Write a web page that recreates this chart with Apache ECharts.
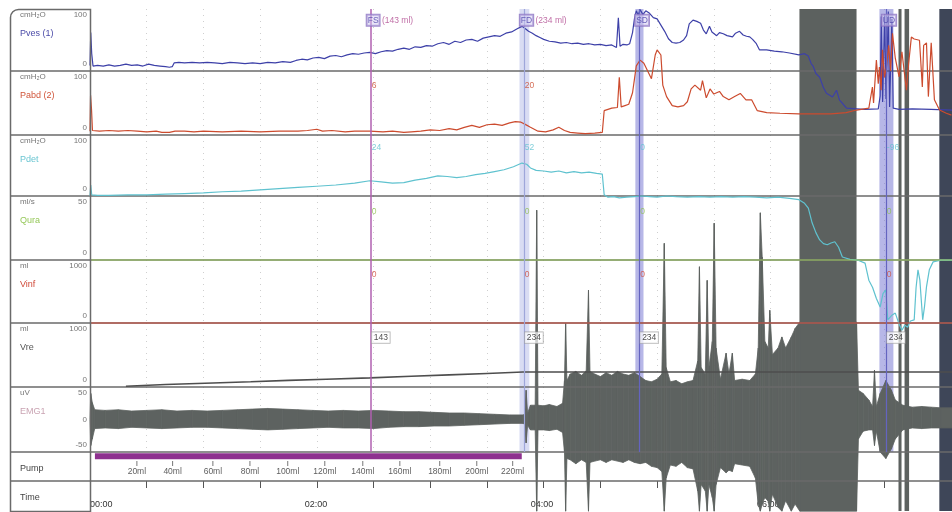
<!DOCTYPE html>
<html><head><meta charset="utf-8">
<script src="https://cdn.jsdelivr.net/npm/echarts@6/dist/echarts.min.js"></script>
<style>html,body{margin:0;padding:0;background:#fff}#c{width:952px;height:512px}</style>
</head><body><div id="c"></div>
<script>
// ---------------- DATA (time in seconds) ----------------
const channelNames = ['Pves (1)','Pabd (2)','Pdet','Qura','Vinf','Vre','EMG1','Pump','Time'];
const channelUnits = ['cmH\u2082O','cmH\u2082O','cmH\u2082O','ml/s','ml','ml','uV','',''];
const channelMaxLabels = ['100','100','100','50','1000','1000','50','',''];
const channelMinLabels = ['0','0','0','0','0','0','-50','',''];
const channelMax = [100,100,100,50,1000,1000,50,1,1];
const channelMin = [0,0,0,0,0,0,-50,0,0];
const timeTickLabels = ['00:00','02:00','04:00','06:00'];
const pumpVolLabels = ['20ml','40ml','60ml','80ml','100ml','120ml','140ml','160ml','180ml','200ml','220ml'];
const pumpTimes = [24.8,43.7,65,84.6,104.6,124.2,144.3,163.9,185,204.6,223.6];
const pumpRun = [2.6,228.4];

const pves = [[0,9],[0.4,62],[0.9,28],[1.6,8],[4,9],[7,8],[10,10],[13,8],[16,9],[19,11],[22,9],[25,10],[28,8],[31,11],[34,9],[37,8],[40,7],[42,6],[43.5,7],[44.5,13],[47,14],[50,13],[54,14],[58,13],[62,14],[66,13],[70,12],[74,14],[78,13],[82,12],[86,13],[90,12],[94,14],[98,13],[102,15],[106,14],[109,17],[112,19],[115,18],[118,21],[121,22],[124,20],[127,24],[130,25],[133,23],[136,26],[139,28],[142,27],[145,29],[148,30],[151,28],[154,31],[157,33],[160,32],[163,35],[166,37],[169,35],[172,39],[175,38],[178,41],[181,40],[184,44],[187,46],[190,43],[193,48],[196,46],[199,50],[202,51],[205,48],[208,53],[211,55],[214,57],[217,56],[220,61],[223,63],[226,68],[228.5,72],[230,69],[232,64],[234,61],[236,57],[238,54],[240,51],[243,48],[246,47],[249,45],[252,46],[255,44],[258,45],[261,43],[264,44],[267,42],[270,43],[273,41],[276,42],[278.5,38],[279.5,86],[280.4,40],[282,43],[284,42],[285.5,44],[287,62],[288,84],[289,97],[290,90],[291,99],[292.5,91],[294,97],[296,93],[298,86],[300,84],[302,74],[304,64],[306,52],[308,46],[310,45],[312,46],[314,50],[315.6,57],[317,76],[319,82],[321,80],[323,77],[324.5,66],[326,60],[327.7,72],[329,63],[331.5,57],[333,62],[335,60],[337,57],[339.9,55],[341.5,61],[343.6,64],[345.5,58],[347.3,56],[349,55],[350.5,51],[352.5,44],[354.2,34],[357.9,34],[362,32],[366,31],[370,29],[375,26],[378,28],[380,24],[381.5,12],[382.5,8],[384,-4],[386,-10],[388,-27],[389.6,-36],[392.8,-42],[394.9,-31],[396.5,-47],[398,-52],[400.2,-60],[405.5,-61],[410,-62],[417,-61],[418,-40],[418.6,88],[419.3,-50],[420.4,92],[421.1,-45],[422.3,96],[423,-58],[424.2,84],[424.9,-60],[428,-62],[435,-61],[445,-62],[456,-63]];

const pabd = [[0,6],[0.3,62],[0.8,40],[1.3,7],[5,6],[10,7],[15,6],[20,7],[25,6],[30,5],[35,6],[38,4],[42,4],[45,6],[50,6],[55,5],[60,6],[70,5],[80,6],[90,5],[100,6],[110,6],[115,7],[120,9],[123,6],[128,7],[135,5],[140,6],[148,6],[155,5],[160,6],[166,4],[170,5],[175,6],[180,8],[185,7],[190,10],[194,8],[198,12],[202,15],[206,12],[210,16],[214,17],[218,15],[222,19],[225,21],[228,20],[230,17],[233,12],[237,6],[241,5],[245,8],[248,12],[251,7],[254,4],[258,3],[262,2],[267,3],[271,4],[272,38],[274,40],[276,42],[279,43],[280,90],[281,44],[283,46],[285,48],[287,66],[289,108],[291,117],[293,112],[295,100],[297,88],[299,125],[300,133],[302,125],[303,78],[305,60],[308,46],[311,44],[314,46],[316,52],[318,72],[320,78],[323,70],[324,85],[326,58],[328,72],[330,64],[333,68],[335,60],[338,55],[341,60],[344,65],[347,55],[350,55],[353,38],[358,35],[365,34],[375,33],[385,33],[392,33],[400,35],[405.5,39],[412,42],[413.9,75],[414.5,50],[416,117],[417,80],[417.6,106],[418.5,70],[419.2,133],[420.3,90],[421.3,106],[422.5,140],[423.5,100],[424.5,159],[426,120],[428,91],[429.5,130],[431.9,70],[433,110],[434.5,153],[436,150],[438.8,148],[440.3,75],[441,140],[442.5,144],[443.5,60],[445,144],[446.7,55],[449.4,39],[453,34],[455.7,31]];

const pdet = [[0,0],[0.4,18],[0.9,2],[4,1],[10,1],[20,2],[30,2],[40,3],[50,4],[60,5],[70,7],[80,8],[90,10],[100,12],[110,14],[120,16],[130,18],[140,21],[148,25],[154,23],[160,21],[166,22],[172,26],[178,29],[184,33],[189,32],[194,30],[199,32],[204,35],[209,37],[214,40],[219,43],[224,48],[228.5,54],[231,52],[233,46],[236,42],[240,41],[244,39],[248,41],[252,38],[256,40],[260,38],[264,39],[268,37],[271,36],[272,2],[274,-2],[277,-1],[280,-3],[284,-2],[288,-1],[292,0],[296,-1],[300,-2],[305,0],[310,-1],[316,-2],[322,-1],[328,-2],[334,-1],[340,-2],[346,-1],[352,-2],[358,-3],[364,-2],[370,-4],[375,-6],[378,-12],[380,-20],[382,-44],[384,-60],[386,-72],[388,-78],[390,-80],[392,-77],[394,-75],[396,-84],[398,-100],[402,-104],[406,-105],[410,-110],[412,-138],[414,-150],[416,-168],[418,-182],[419.5,-160],[421,-154],[422,-203],[424,-196],[426,-192],[428,-210],[429.5,-220],[431,-212],[432.5,-215],[434,-205],[436,-203],[437,-150],[438,-121],[439,-138],[440.5,-203],[441.5,-180],[442.5,-149],[444,-121],[446,-108],[450,-105],[456,-105]];

const qura = [[0,0],[456,0]];
const vinf = [[0,0],[456,0]];
const vre = [[19,12],[40,38],[65,62],[85,82],[105,103],[125,122],[148,143],[170,168],[190,190],[210,212],[229,234],[456,234]];

// EMG envelope: [time, upper, lower]
const emg = [[0,0,0],[0.4,40,-40],[1.2,26,-30],[2.5,15,-14],[8,14,-13],[15,15,-14],[22,13,-12],[30,14,-13],[38,15,-14],[46,13,-13],[54,14,-12],[62,13,-12],[70,14,-13],[78,15,-14],[86,16,-15],[94,17,-16],[102,16,-15],[110,15,-14],[118,14,-13],[126,13,-12],[134,14,-13],[142,13,-13],[150,14,-14],[158,13,-12],[166,12,-11],[174,12,-11],[182,11,-10],[190,10,-10],[198,10,-9],[206,9,-8],[214,8,-7],[222,7,-6],[229,7,-6],[230,8,-7],[230.7,45,-36],[231.5,10,-9],[233,22,-16],[235.5,22,-16],[236.3,322,-141],[237,22,-16],[240,21,-16],[243,23,-17],[247,20,-15],[250,25,-20],[251,60,-50],[251.6,148,-141],[252.3,60,-60],[254,70,-62],[257,74,-68],[260,68,-62],[262.5,75,-66],[263.7,199,-141],[264.5,74,-66],[267,70,-64],[270,66,-62],[273,72,-66],[276,68,-62],[279,74,-64],[282,70,-66],[285,68,-62],[288,72,-66],[291,66,-68],[294,60,-66],[297,58,-72],[300,62,-74],[302.5,70,-80],[303.8,271,-141],[304.8,80,-90],[307,58,-70],[310,60,-72],[313,55,-66],[316,58,-74],[319,60,-76],[321.5,90,-110],[322.4,235,-141],[323.3,80,-100],[325.5,70,-110],[326.5,214,-141],[327.4,80,-100],[329.2,120,-120],[330.2,302,-141],[331.2,110,-100],[333.5,62,-74],[336.5,102,-82],[338,70,-78],[339.8,102,-80],[341,60,-68],[345,62,-70],[349,60,-72],[352,70,-90],[353.5,110,-130],[354.6,318,-141],[355.6,250,-130],[357,120,-120],[358.8,110,-126],[359.6,168,-141],[361,100,-115],[364,110,-135],[366,127,-141],[368,110,-125],[371,127,-141],[373,140,-130],[375.5,150,-141],[405.5,150,-141],[406.5,45,-30],[409,40,-18],[412,30,-16],[414,20,-16],[415,76,-40],[416,20,-18],[418,40,-50],[421,60,-60],[424,45,-45],[426,30,-30],[430,22,-16],[435,19,-13],[440,20,-14],[445,19,-13],[450,18,-13],[456,18,-13]];

// event markers
const markerTimes = [148.5, 229.5, 290.5, 421];
const markerNames = ['FS','FD','SD','UD'];
const markerVols = ['(143 ml)','(234 ml)','',''];
const mkPabd = ['6','20','',''];
const mkPdet = ['24','52','0','-96'];
const mkQura = ['0','0','0','0'];
const mkVinf = ['0','0','0','0'];
const mkVre = ['143','234','234','234'];
const markerBands = [[227.2,232.4],[288.5,292.8],[417.6,425]];
const darkBands = [[375.3,405.5],[427.7,429.3],[430.9,433.3],[449.3,456]];

// ---------------- LAYOUT / STYLE ----------------
const FONT = 'Liberation Sans, Arial, sans-serif';
const panelTop = [9,71,135,196,260,323,387,452,481];
const panelBottom = [71,135,196,260,323,387,452,481,511];
const nameColors = ['#4b4ba8','#d0553a','#6cc6d2','#96c85a','#d04a3a','#555555','#c9a3b2','#444','#444'];
const X0 = 90, XMAX = 456;

const grids = [], xAxes = [], yAxes = [];
for (let i = 0; i < 9; i++) {
  grids.push({left: X0, right: 0, top: panelTop[i], height: panelBottom[i]-panelTop[i]});
  const xa = {gridIndex:i, type:'value', min:0, max:XMAX, interval:30,
    axisLine:{show:false}, axisTick:{show:false}, axisLabel:{show:false},
    splitLine:{show: i < 7, lineStyle:{color:'#cfcfcf', type:[1,5], width:1}}};
  if (i === 7) {
    // time ticks hanging below the pump strip
    xa.position = 'bottom';
    xa.axisTick = {show:true, inside:false, length:7, lineStyle:{color:'#555'}};
  }
  if (i === 8) {
    xa.position = 'bottom';
    xa.axisLabel = {show:true, inside:true, margin:2, color:'#333', fontSize:9, fontFamily:FONT,
      alignMinLabel:'left', hideOverlap:false, verticalAlign:'bottom',
      formatter: v => (v % 120 === 0 ? (timeTickLabels[v/120] || '') : '')};
  }
  xAxes.push(xa);
  yAxes.push({gridIndex:i, type:'value', min:channelMin[i], max:channelMax[i], show:false});
}
// overlay grids: 9 = event markers, 10 = full-height dark bands
grids.push({left:X0, right:0, top:9, height:443});
grids.push({left:X0, right:0, top:9, height:502});
for (const g of [9,10]) {
  xAxes.push({gridIndex:g, type:'value', min:0, max:XMAX, show:false});
  yAxes.push({gridIndex:g, type:'value', min:0, max:1, show:false});
}

function line(idx, data, color, width) {
  return {type:'line', xAxisIndex:idx, yAxisIndex:idx, data, showSymbol:false, symbol:'none',
    clip:false, z:3, silent:true, lineStyle:{color, width}, animation:false};
}
function labels(idx, yVal, texts, color, extra) {
  return {type:'scatter', xAxisIndex:idx, yAxisIndex:idx, symbolSize:0, z:6, silent:true,
    data: markerTimes.map((t,k)=>({value:[t,yVal], name:texts[k]})).filter(d=>d.name!==''),
    label:Object.assign({show:true, position:'right', distance:1, formatter:'{b}', color, fontSize:8.5, fontFamily:FONT}, extra||{})};
}

const series = [
  line(0, pves, '#3d40a8', 1.2),
  line(1, pabd, '#cc4b2e', 1.2),
  line(2, pdet, '#5fc2cf', 1.2),
  line(3, qura, '#9ccc5c', 1.2),
  line(4, vinf, '#d24b3b', 1.2),
  line(5, vre, '#4e4e4e', 1.6),
  {type:'custom', xAxisIndex:6, yAxisIndex:6, data:emg, z:1, silent:true,
   encode:{x:0, y:[1,2]},
   renderItem: function(params, api) {
     const i = params.dataIndex;
     if (i >= emg.length - 1) return null;
     const a = emg[i], b = emg[i+1];
     const pts = [api.coord([a[0],a[1]]), api.coord([b[0],b[1]]), api.coord([b[0],b[2]]), api.coord([a[0],a[2]])];
     return {type:'polygon', shape:{points:pts}, style:{fill:'#5d6260', stroke:'#5d6260', lineWidth:0.8}};
   }},
  {type:'line', xAxisIndex:7, yAxisIndex:7, data:[[pumpRun[0],0.85],[pumpRun[1],0.85]], showSymbol:false, symbol:'none',
   z:3, silent:true, lineStyle:{color:'#8e318f', width:6, cap:'butt'}},
  {type:'scatter', xAxisIndex:7, yAxisIndex:7, z:4, silent:true, symbol:'rect', symbolSize:[1,5],
   itemStyle:{color:'#555'},
   data: pumpTimes.map((t,k)=>({value:[t,0.6], name:pumpVolLabels[k]})),
   label:{show:true, position:'bottom', distance:1, formatter:'{b}', color:'#333', fontSize:8.5, fontFamily:FONT}},
  {type:'line', xAxisIndex:9, yAxisIndex:9, data:[], z:0.5, silent:true,
   markArea:{silent:true, data: markerBands.map((b,k)=>[
     {xAxis:b[0], itemStyle:{color: k===0 ? 'rgba(170,178,228,0.45)' : 'rgba(112,112,208,0.5)'}}, {xAxis:b[1]}])},
   markLine:{silent:true, symbol:['none','none'], label:{show:false},
     data: markerTimes.map((t,k)=>({xAxis:t, lineStyle:{color: k===0 ? '#b060b0' : (k===1 ? '#9ea6da' : '#6464c0'), width: k===0 ? 1.5 : 1.2, type:'solid'}}))}},
  {type:'line', xAxisIndex:10, yAxisIndex:10, data:[], z:0.6, silent:true,
   markArea:{silent:true, data: darkBands.map((b,k)=>[
     {xAxis:b[0], itemStyle:{color: k===3 ? '#3e4658' : '#5c615f'}}, {xAxis:b[1]}])}},
  // marker labels
  {type:'scatter', xAxisIndex:0, yAxisIndex:0, symbolSize:0, z:6, silent:true,
   data: markerTimes.map((t,k)=>({value:[t,82], name:markerNames[k], vol:markerVols[k]})),
   label:{show:true, position:'right', distance:-4, fontFamily:FONT, fontSize:8.5,
     formatter: p => '{b|' + p.data.name + '}' + (p.data.vol ? ' {v|' + p.data.vol + '}' : ''),
     rich:{b:{color:'#4a3fa8', borderColor:'#8a70c0', borderWidth:1, padding:[1,1], backgroundColor:'rgba(210,200,240,0.6)', fontSize:8.5},
           v:{color:'#b04a90', fontSize:8.5}}}},
  labels(1, 77, mkPabd, '#cc4b2e'),
  labels(2, 79, mkPdet, '#5fc2cf'),
  labels(3, 37.5, mkQura, '#8dbf4c'),
  labels(4, 760, mkVinf, '#d04a3a'),
  labels(5, 770, mkVre, '#222', {backgroundColor:'rgba(255,255,255,0.85)', borderColor:'#999', borderWidth:0.6, padding:[1,2]})
];

// left label column + panel dividers
const graphic = [];
graphic.push({type:'rect', z:20, silent:true, shape:{x:10.5, y:9.5, width:80, height:502, r:[8,0,0,0]},
  style:{fill:'none', stroke:'#6a6a6a', lineWidth:1.5}});
for (let i = 0; i < 8; i++) {
  graphic.push({type:'line', z:1.5, silent:true, shape:{x1:10, y1:panelBottom[i], x2:952, y2:panelBottom[i]},
    style:{stroke:'#6a6a6a', lineWidth:1.5}});
}
for (let i = 0; i < 9; i++) {
  const t = panelTop[i], b = panelBottom[i];
  if (channelUnits[i]) graphic.push({type:'text', z:21, silent:true, x:20, y:t+6,
    style:{text:channelUnits[i], fill:'#777', font:'8px ' + FONT, verticalAlign:'middle'}});
  if (channelMaxLabels[i]) graphic.push({type:'text', z:21, silent:true, x:87, y:t+6,
    style:{text:channelMaxLabels[i], fill:'#777', font:'8px ' + FONT, align:'right', verticalAlign:'middle'}});
  const nameY = i < 7 ? t + 25 : t + 17;
  graphic.push({type:'text', z:21, silent:true, x:20, y:nameY,
    style:{text:channelNames[i], fill:nameColors[i], font:'9px ' + FONT, verticalAlign:'middle'}});
  if (channelMinLabels[i]) graphic.push({type:'text', z:21, silent:true, x:87, y:b-7,
    style:{text:channelMinLabels[i], fill:'#777', font:'8px ' + FONT, align:'right', verticalAlign:'middle'}});
  if (i === 6) graphic.push({type:'text', z:21, silent:true, x:87, y:(t+b)/2,
    style:{text:'0', fill:'#777', font:'8px ' + FONT, align:'right', verticalAlign:'middle'}});
}

const chart = echarts.init(document.getElementById('c'), null, {renderer:'canvas', width:952, height:512});
chart.setOption({
  animation:false,
  backgroundColor:'#ffffff',
  grid:grids, xAxis:xAxes, yAxis:yAxes, series, graphic
});
</script>
</body></html>
